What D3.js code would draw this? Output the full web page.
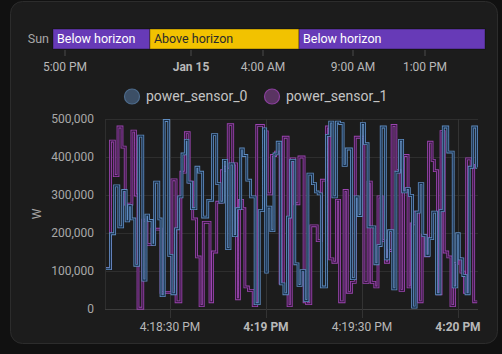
<!DOCTYPE html>
<html>
<head>
<meta charset="utf-8">
<script src="https://cdn.jsdelivr.net/npm/d3@7"></script>
<style>
html, body { margin: 0; padding: 0; background: #111111; }
svg { display: block; font-family: Roboto, "Noto Sans", sans-serif; }
</style>
</head>
<body>
<svg id="chart" width="502" height="354"></svg>
<script>
// sun timeline
var sunStates = ['Below horizon', 'Above horizon', 'Below horizon'];
var sunStarts = ['2024-01-14T16:20', '2024-01-14T21:43', '2024-01-15T06:00'];
var sunEnd = '2024-01-15T16:20';
var timelineTicks = ['2024-01-14T17:00', '2024-01-15T00:00', '2024-01-15T04:00', '2024-01-15T09:00', '2024-01-15T13:00'];

// power sensors, seconds after 4:18:00 PM
var seriesNames = ['power_sensor_0', 'power_sensor_1'];
var sensor0Times = [10.0, 11.4, 12.7, 14.0, 15.2, 16.3, 17.1, 17.9, 19.0, 20.2, 21.5, 22.5, 23.3, 24.4, 25.2,
    26.5, 27.2, 28.2, 29.6, 30.6, 31.7, 32.7, 33.75, 34.8, 35.6, 36.7, 38.1, 39.0, 40.2, 41.8,
    43.3, 44.6, 45.6, 46.7, 47.7, 48.75, 49.8, 50.8, 52.1, 52.9, 54.0, 55.2, 56.6, 57.9, 59.2,
    59.9, 60.4, 61.5, 62.5, 63.5, 64.6, 65.6, 66.7, 67.7, 69.0, 70.0, 71.0, 72.1, 73.1, 74.5, 75.5,
    76.3, 77.3, 78.9, 79.9, 80.9, 82.0, 83.0, 84.1, 85.1, 86.7, 87.9, 88.8, 89.8, 90.8, 91.9,
    94.0, 95.0, 96.0, 97.3, 98.3, 99.6, 100.6, 101.7, 102.7, 103.8, 104.8, 105.8, 106.9, 107.9, 109.0,
    110.0, 111.0, 112.1, 113.3, 114.4, 115.4, 116.8, 118.5, 119.6, 120.4, 121.5, 122.5, 123.5, 124.6, 125.8, 126.0];
var sensor0Values = [106, 198, 324, 216, 312, 232, 272, 237, 115, 455, 76, 247, 233, 170, 334,
    237, 35, 496, 141, 40, 211, 295, 408, 444, 334, 264, 373, 360, 242, 286,
    459, 330, 281, 391, 159, 382, 193, 264, 421, 404, 339, 295, 14, 259, 474,
    97, 268, 206, 408, 439, 66, 40, 242, 391, 119, 62, 101, 22, 355, 330, 308,
    303, 58, 457, 492, 295, 492, 488, 378, 421, 80, 295, 246, 488, 435, 216,
    119, 167, 479, 132, 206, 53, 360, 444, 308, 317, 299, 5, 255, 330, 193,
    141, 185, 255, 40, 259, 479, 413, 58, 198, 132, 88, 40, 373, 479, 373, 373];
var sensor1Times = [10.0, 11.4, 12.6, 13.75, 15.0, 16.0, 18.1, 19.2, 20.0, 21.5, 22.8, 24.4,
    27.2, 30.6, 31.9, 33.4, 34.8, 36.0, 37.1, 38.3, 39.4, 40.4,
    42.5, 43.3, 44.6, 46.1, 47.2, 48.2, 49.6, 50.8, 51.7, 52.7, 53.4, 54.5, 56.0, 57.1, 59.2,
    60.4, 61.7, 63.0, 64.4, 65.4, 66.9, 67.9, 69.0, 70.3, 71.9, 72.7, 74.0, 76.0,
    77.3, 78.9, 79.9, 80.9, 82.0, 83.0, 84.4, 85.4, 86.7, 87.9, 90.6, 91.9, 92.9,
    94.0, 95.0, 96.3, 97.3, 98.3, 99.4, 100.6, 101.9, 103.0, 104.4, 105.4, 106.5, 107.7, 108.8, 109.8,
    110.8, 111.9, 112.6, 113.6, 114.7, 115.7, 116.8, 117.8, 118.9, 119.9, 120.9, 122.0, 122.7, 124.1, 124.9, 126.0];
var sensor1Values = [106, 442, 351, 479, 426, 276, 468, 300, 2, 234, 170, 210,
    44, 340, 19, 360, 464, 334, 237, 137, 9, 228,
    19, 150, 281, 364, 373, 485, 382, 27, 286, 264, 58, 49, 9, 483, 466,
    303, 404, 413, 68, 452, 9, 395, 277, 400, 19, 14, 219, 180,
    339, 479, 132, 123, 286, 19, 312, 44, 70, 452, 70, 334, 70,
    58, 295, 180, 123, 154, 483, 364, 49, 404, 58, 224, 255, 19, 193, 140,
    439, 391, 364, 40, 467, 150, 137, 9, 120, 132, 97, 44, 395, 378, 19, 19];
var yTicks = [0, 100000, 200000, 300000, 400000, 500000];
var xTickSeconds = [30, 60, 90, 120];

var lineColors = [{ outer: '#5f8cc0', inner: '#172c45', dot: '#3c4f66', dotStroke: '#4d6b8c' },
                  { outer: '#9c45b0', inner: '#35173f', dot: '#5a3462', dotStroke: '#8a3f9c' }];

var svg = d3.select('#chart');
var parse = d3.timeParse('%Y-%m-%dT%H:%M');
var t0 = new Date(2024, 0, 15, 16, 18, 0);
var at = function(s) { return new Date(t0.getTime() + s * 1000); };

// card
svg.append('rect')
    .attr('x', 10.5).attr('y', 1.5).attr('width', 487).attr('height', 342).attr('rx', 12)
    .style('fill', '#1c1c1c').style('stroke', '#2c2c2c');

// ---- timeline ----
var tx = d3.scaleTime()
    .domain([parse(sunStarts[0]), parse(sunEnd)])
    .range([53, 485]);

svg.append('text')
    .attr('x', 49).attr('y', 39).attr('dy', '0.35em')
    .style('text-anchor', 'end').style('fill', '#a8a8a8').style('font-size', '12.5px')
    .text('Sun');

var segs = sunStates.map(function(s, i) {
    return { state: s, start: parse(sunStarts[i]), end: parse(i + 1 < sunStarts.length ? sunStarts[i + 1] : sunEnd) };
});

var seg = svg.selectAll('.seg').data(segs).enter().append('g').attr('class', 'seg');
seg.append('rect')
    .attr('x', function(d) { return tx(d.start); })
    .attr('y', 29)
    .attr('width', function(d) { return tx(d.end) - tx(d.start); })
    .attr('height', 20)
    .style('fill', function(d) { return d.state == 'Above horizon' ? '#f2c200' : '#673ab7'; })
    .style('stroke', 'rgba(0,0,0,0.35)').style('stroke-width', 1);
seg.append('text')
    .attr('x', function(d) { return tx(d.start) + 4; })
    .attr('y', 39).attr('dy', '0.35em')
    .style('fill', function(d) { return d.state == 'Above horizon' ? '#2b2b2b' : '#ffffff'; })
    .style('font-size', '12.5px')
    .text(function(d) { return d.state; });

var tlTicks = timelineTicks.map(function(t) { return parse(t); });
svg.selectAll('.tltick').data(tlTicks).enter().append('line')
    .attr('class', 'tltick')
    .attr('x1', function(d) { return tx(d); }).attr('x2', function(d) { return tx(d); })
    .attr('y1', 50).attr('y2', 56)
    .style('stroke', '#4a4a4a');
svg.selectAll('.tllabel').data(tlTicks).enter().append('text')
    .attr('class', 'tllabel')
    .attr('x', function(d) { return tx(d); }).attr('y', 71)
    .style('text-anchor', 'middle').style('font-size', '12px')
    .style('fill', '#b8b8b8')
    .style('font-weight', function(d) { return d.getHours() == 0 ? 'bold' : 'normal'; })
    .text(function(d) { return d.getHours() == 0 ? d3.timeFormat('%b %-d')(d) : d3.timeFormat('%-I:%M %p')(d); });

// ---- legend ----
var legendX = [132, 272];
var lg = svg.selectAll('.legend').data(seriesNames).enter().append('g').attr('class', 'legend');
lg.append('circle')
    .attr('cx', function(d, i) { return legendX[i]; }).attr('cy', 96.5).attr('r', 7.5)
    .style('fill', function(d, i) { return lineColors[i].dot; })
    .style('stroke', function(d, i) { return lineColors[i].dotStroke; }).style('stroke-width', 1.2);
lg.append('text')
    .attr('x', function(d, i) { return legendX[i] + 14; }).attr('y', 96.5).attr('dy', '0.35em')
    .style('fill', '#c4c4c4').style('font-size', '14px')
    .text(function(d) { return d; });

// ---- main chart ----
var margins = { left: 105, right: 478, top: 119, bottom: 309 };
var x = d3.scaleTime().domain([at(9.69), at(126.25)]).range([margins.left, margins.right]);
var y = d3.scaleLinear().domain([0, 500000]).range([margins.bottom, margins.top]);

svg.append('g').selectAll('line').data(yTicks).enter().append('line')
    .attr('x1', margins.left).attr('x2', margins.right)
    .attr('y1', function(d) { return y(d) + 0.5; }).attr('y2', function(d) { return y(d) + 0.5; })
    .style('stroke', function(d) { return d == 0 ? '#3c3c3c' : '#2e2e2e'; });

svg.append('line')
    .attr('x1', margins.left + 0.5).attr('x2', margins.left + 0.5)
    .attr('y1', margins.top).attr('y2', margins.bottom)
    .style('stroke', '#2e2e2e');

var xTicks = xTickSeconds.map(at);
svg.append('g').selectAll('line').data(xTicks).enter().append('line')
    .attr('x1', function(d) { return Math.round(x(d)) + 0.5; }).attr('x2', function(d) { return Math.round(x(d)) + 0.5; })
    .attr('y1', margins.top).attr('y2', margins.bottom + 9)
    .style('stroke', '#333333');

svg.append('g').selectAll('text').data(yTicks).enter().append('text')
    .attr('x', 94).attr('y', function(d) { return y(d); }).attr('dy', '0.35em')
    .style('text-anchor', 'end').style('font-size', '12px').style('fill', '#a8a8a8')
    .text(function(d) { return d3.format(',')(d); });

svg.append('text')
    .attr('transform', 'translate(37,' + (margins.top + margins.bottom) / 2 + ') rotate(-90)')
    .attr('dy', '0.35em')
    .style('text-anchor', 'middle').style('font-size', '12px').style('fill', '#a8a8a8')
    .text('W');

svg.append('g').selectAll('text').data(xTicks).enter().append('text')
    .attr('x', function(d) { return x(d); }).attr('y', 331)
    .style('text-anchor', 'middle').style('font-size', '12px').style('fill', '#b8b8b8')
    .style('font-weight', function(d) { return d.getSeconds() == 0 ? 'bold' : 'normal'; })
    .text(function(d) { return d.getSeconds() == 0 ? d3.timeFormat('%-I:%M %p')(d) : d3.timeFormat('%-I:%M:%S %p')(d); });

var series = [
    sensor0Times.map(function(t, i) { return { t: at(t), v: sensor0Values[i] * 1000 }; }),
    sensor1Times.map(function(t, i) { return { t: at(t), v: sensor1Values[i] * 1000 }; })
];

var line = d3.line()
    .x(function(d) { return x(d.t); })
    .y(function(d) { return y(d.v); })
    .curve(d3.curveStepAfter);

// purple underneath, blue on top
var plot = svg.append('g');
[1, 0].forEach(function(i) {
    var data = series[i];
    plot.append('path').datum(data)
        .attr('d', line)
        .style('fill', 'none').style('stroke', lineColors[i].outer)
        .style('stroke-width', 2.8).style('stroke-linejoin', 'miter');
    plot.append('path').datum(data)
        .attr('d', line)
        .style('fill', 'none').style('stroke', lineColors[i].inner)
        .style('stroke-width', 1.1).style('stroke-linejoin', 'miter');
});
</script>
</body>
</html>
